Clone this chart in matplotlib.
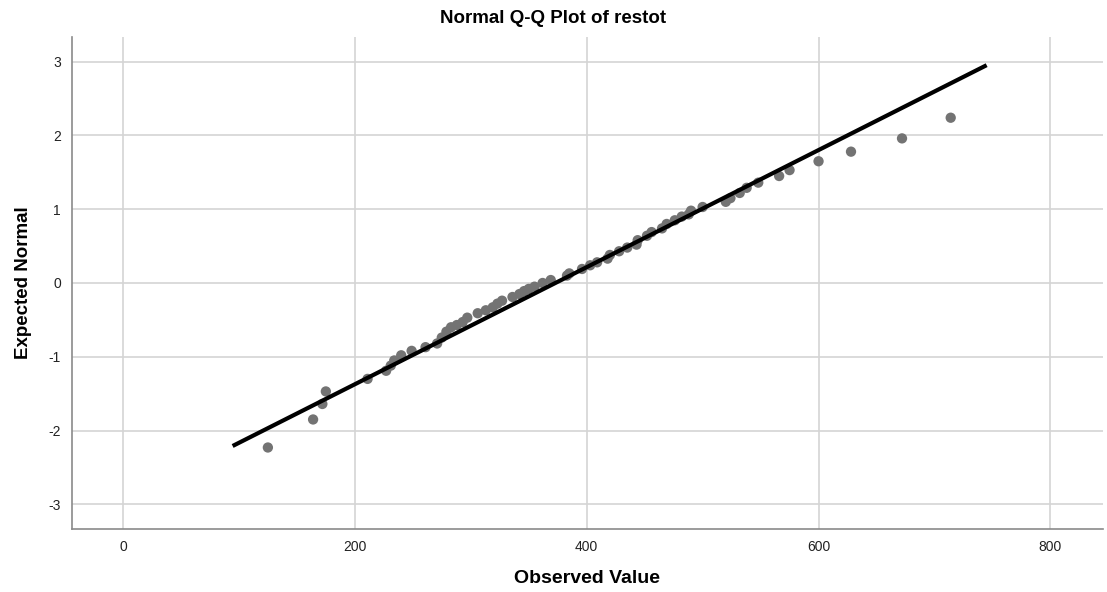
"""Normal Q-Q plot of restot, SPSS style"""

import numpy as np
import matplotlib.pyplot as plt

# data
# ========================================
observed = [125, 164, 172, 175, 211, 227, 231, 234, 240, 249,
            261, 271, 275, 279, 283, 288, 293, 297, 306, 313,
            319, 323, 327, 336, 342, 346, 350, 355, 362, 369,
            383, 385, 396, 403, 409, 418, 420, 428, 435, 443,
            444, 452, 456, 465, 469, 476, 482, 488, 490, 500,
            520, 524, 532, 538, 548, 566, 575, 600, 628, 672,
            714]
expected = [-2.23, -1.85, -1.64, -1.47, -1.30, -1.19, -1.12, -1.05, -0.98, -0.92,
            -0.87, -0.82, -0.74, -0.66, -0.60, -0.57, -0.53, -0.47, -0.41, -0.37,
            -0.33, -0.28, -0.24, -0.19, -0.15, -0.11, -0.08, -0.05, 0.00, 0.04,
            0.10, 0.13, 0.19, 0.24, 0.28, 0.33, 0.38, 0.43, 0.48, 0.52,
            0.58, 0.64, 0.69, 0.74, 0.80, 0.85, 0.90, 0.93, 0.98, 1.03,
            1.10, 1.15, 1.22, 1.29, 1.36, 1.45, 1.53, 1.65, 1.78, 1.96,
            2.24]

# reference line: mean and sd of restot, drawn over this x range
mean_val = 373
sd_val = 126
line_x = np.array([94.6, 745])
line_y = (line_x - mean_val) / sd_val

x_ticks = [0, 200, 400, 600, 800]
y_ticks = [-3, -2, -1, 0, 1, 2, 3]

# plot
# ========================================
plt.rcParams['font.family'] = ['Liberation Sans', 'DejaVu Sans']
plt.rcParams['axes.unicode_minus'] = False

fig = plt.figure(figsize=(11.07, 5.92), dpi=100)
ax = fig.add_axes([0.065, 0.107, 0.931, 0.8306])

ax.set_xlim(-44, 845)
ax.set_ylim(-3.33, 3.335)
ax.set_xticks(x_ticks)
ax.set_yticks(y_ticks)
ax.grid(True, color='#d4d4d4', linewidth=1.2)
ax.set_axisbelow(True)
ax.tick_params(length=0, labelsize=10, colors='#222222', pad=8)

for side in ['top', 'right']:
    ax.spines[side].set_visible(False)
for side in ['left', 'bottom']:
    ax.spines[side].set_color('#8a8a8a')
    ax.spines[side].set_linewidth(1.2)

ax.scatter(observed, expected, s=55, color='#737373', edgecolors='none', zorder=3)
ax.plot(line_x, line_y, color='black', linewidth=3, solid_capstyle='butt', zorder=4)

fig.text(0.5, 0.968, 'Normal Q-Q Plot of restot', ha='center', va='center',
         fontsize=13.5, fontweight='bold')
ax.set_xlabel('Observed Value', fontsize=14, fontweight='bold', labelpad=12)
ax.set_ylabel('Expected Normal', fontsize=13.5, fontweight='bold', labelpad=12)

fig.savefig('out.png', dpi=100)
